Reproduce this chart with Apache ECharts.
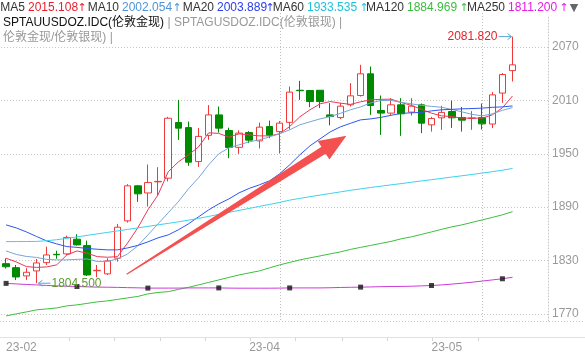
<!DOCTYPE html>
<html><head><meta charset="utf-8">
<script src="https://cdn.jsdelivr.net/npm/echarts@6/dist/echarts.min.js"></script>
<style>html,body{margin:0;padding:0;background:#fff}#c{width:585px;height:356px}</style>
</head><body><div id="c"></div>
<script>
// ---- data ----
const dates = ['2023-02-23','2023-02-24','2023-02-27','2023-02-28',
 '2023-03-01','2023-03-02','2023-03-03','2023-03-06','2023-03-07','2023-03-08','2023-03-09','2023-03-10',
 '2023-03-13','2023-03-14','2023-03-15','2023-03-16','2023-03-17','2023-03-20','2023-03-21','2023-03-22',
 '2023-03-23','2023-03-24','2023-03-27','2023-03-28','2023-03-29','2023-03-30','2023-03-31',
 '2023-04-03','2023-04-04','2023-04-05','2023-04-06','2023-04-07','2023-04-10','2023-04-11','2023-04-12',
 '2023-04-13','2023-04-14','2023-04-17','2023-04-18','2023-04-19','2023-04-20','2023-04-21','2023-04-24',
 '2023-04-25','2023-04-26','2023-04-27','2023-04-28',
 '2023-05-01','2023-05-02','2023-05-03','2023-05-04',
 '2023-05-05','2023-05-08','2023-05-09'];
const open  = [1826.5,1822,1812.7,1818.3,1827.6,1837,1837.5,1854,1846.8,1818.5,1815,1832.6,1874.6,1914,1906,1918.5,1922.6,1985.2,1979.5,1941.3,1970.8,1993.8,1976.2,1957.3,1973.9,1964.6,1980.7,1975,1985.4,2021.5,2021.2,2021.5,1993.8,1990.8,2005.1,2015.6,2040,1998.7,1995.8,2005.1,1996.9,2005.1,1982.6,1990.5,1997.6,1990.8,1989.9,1990.7,1983.5,2018.3,2043.6];
const close = [1823,1811.5,1816.8,1827.3,1836.3,1836.5,1856,1847.6,1813.8,1819,1829.6,1867.5,1914,1905,1917.7,1919,1990,1978.9,1940.6,1969.6,1993.8,1978.9,1957.1,1973.3,1965.4,1980,1971.1,1984.5,2019.4,2021,2008.8,2008.8,1991.9,2003.6,2015.2,2040,2004.3,1995.8,2005.1,1995,2003.6,1984.5,1989.7,1996.6,1990.5,1987.9,1990.3,1983.7,2016.3,2039.2,2050.1];
const low   = [1821,1808,1808.2,1804.5,1825,1832,1836,1846.8,1812.7,1811.3,1813.8,1828.8,1872.7,1896,1890.7,1903,1919,1965.7,1936.5,1935.3,1965.7,1973.9,1945.1,1950,1962,1956,1967.6,1950.3,1977.4,2010.7,2002.5,2001.4,1982,1989,2003.2,2014.4,1993.8,1971.3,1993.8,1970.2,1993,1973.3,1975,1977,1979.2,1975,1977,1977.3,1978.9,2007.3,2031.3];
const high  = [1832.5,1825,1821.4,1831.8,1845.6,1841,1858,1859.6,1852.4,1825,1832.6,1871.2,1915.9,1915,1938,1935,1991.6,2010.7,1986.3,1979,2004.8,2003.2,1979.4,1976.4,1975.6,1985.2,1987.4,1986.9,2025.7,2032.1,2021.5,2021.7,2007,2007.3,2029.5,2050.1,2048.2,2015.6,2012.6,2012.6,2012.6,2006.6,1991.6,2004,2009.9,2002.6,1998,2006.6,2019.5,2040.8,2081.82];
const ma5   = [1832.6,1828.5,1823.2,1822.3,1822.8,1825.1,1836.3,1840.8,1838.2,1834.4,1833.7,1834.4,1849.8,1866.7,1887.0,1903.8,1929.7,1940.9,1948.8,1957.8,1973.6,1973.0,1968.7,1972.5,1971.3,1970.2,1970.2,1972.5,1980.7,1991.6,1999.5,2006.2,2008.8,2007.0,2005.6,2008.5,2010.7,2011.3,2011.5,2007.7,2004.5,2000.2,1995.7,1992.7,1991.9,1990.1,1990.1,1990.1,1993.8,2001.7,2015.108];
const ma10  = [1840.8,1836.9,1834.6,1833.5,1831.3,1830.7,1830.7,1831.3,1831.8,1829.0,1829.0,1831.8,1837.5,1846.5,1858.8,1871.2,1883.6,1896.0,1910.6,1923.0,1937.6,1950.0,1956.7,1960.1,1963.5,1965.7,1969.1,1972.5,1977.0,1982.6,1986.0,1989.3,1991.9,1995.5,1999.5,2002.8,2007.3,2009.9,2010.1,2007.9,2006.2,2004.5,2003.4,2002.3,2000.0,1997.2,1994.4,1992.7,1995.0,1998.9,2002.054];
const ma20  = [1870.1,1866.7,1862.2,1857.1,1852.1,1848.7,1845.7,1844.8,1843.6,1842.7,1842.0,1842.0,1844.2,1847.0,1851.0,1855.5,1858.8,1864.5,1871.2,1879.1,1887.0,1893.7,1899.3,1906.1,1911.1,1915.1,1919.6,1927.5,1937.6,1948.8,1959.0,1966.8,1974.7,1980.3,1984.3,1988.2,1989.3,1991.0,1993.3,1995.5,1996.1,1996.6,1998.3,1999.5,2000.0,2000.6,2000.9,2001.4,2002.3,2002.8,2003.889];
const ma60  = [1851.3,1851.3,1851.4,1851.5,1852.3,1853.4,1854.9,1856.6,1858.3,1860.0,1861.6,1863.3,1865.0,1866.7,1868.4,1870.1,1871.8,1873.5,1875.4,1877.4,1879.6,1881.9,1884.1,1886.4,1888.6,1890.9,1893.1,1895.4,1897.9,1899.9,1901.8,1903.6,1905.4,1907.2,1909.0,1910.6,1912.2,1913.6,1915.1,1916.5,1918.0,1919.5,1920.9,1922.4,1923.9,1925.3,1926.8,1928.4,1929.9,1931.6,1933.535];
const ma120 = [1767.7,1770.0,1772.2,1774.5,1775.6,1776.7,1779.0,1780.1,1781.8,1783.5,1784.6,1786.3,1788.0,1789.6,1792.5,1794.1,1795.0,1797.5,1799.8,1802.6,1805.4,1808.2,1811.0,1813.8,1816.1,1818.3,1821.7,1825.1,1827.9,1830.7,1833.0,1835.2,1837.5,1839.7,1842.5,1844.8,1847.0,1849.3,1851.5,1854.4,1856.6,1859.4,1862.2,1865.1,1867.9,1870.1,1872.9,1875.7,1878.5,1881.4,1884.969];
const ma250 = [1804.3,1803.7,1803.1,1802.6,1802.0,1801.5,1801.1,1800.8,1800.4,1800.1,1800.0,1799.8,1799.5,1799.3,1799.0,1799.0,1799.0,1799.0,1799.2,1799.2,1799.2,1799.2,1799.0,1798.9,1798.9,1798.9,1798.9,1799.0,1799.2,1799.2,1799.2,1799.2,1799.4,1799.7,1799.9,1800.1,1800.3,1800.6,1800.8,1800.9,1801.1,1801.5,1801.9,1802.6,1803.5,1804.5,1805.6,1806.9,1808.2,1809.5,1811.200];
const yTicks = [1770,1830,1890,1950,2010,2070];
const xLabelIdx = [0,24,42];
const xLabelText = ['23-02','23-04','23-05'];
const monthLineIdx = [27,47];
const markerIdx = [0,7,14,21,28,35,42,49];
const yMin = 1762, yMax = 2105;
const arrowFrom = [11.9, 1814.5], arrowTo = [33.6, 1970.2];

// ---- chart ----
const FONT = '"Liberation Sans","Noto Sans CJK SC",sans-serif';
const C = {ma5:'#e8385a', ma10:'#78a4d6', ma20:'#2d55f0', ma60:'#3fd0ec', ma120:'#3cbf3c', ma250:'#cc3ad8'};
const LC = {ma5:'#e8202e', ma10:'#4d94d8', ma20:'#2a3cf0', ma60:'#1cc3dc', ma120:'#3cbc3c', ma250:'#e619e6'};
const chart = echarts.init(document.getElementById('c'), null, {renderer:'canvas'});
const kData = open.map((o,i)=>[o, close[i], low[i], high[i]]);
function maSeries(name, data, color){
  return {name, type:'line', data, showSymbol:false, symbol:'none', z:4, silent:true,
    lineStyle:{width:1, color}, itemStyle:{color}};
}
chart.setOption({
  animation:false,
  grid:{left:1, right:37, top:16, bottom:35},
  xAxis:{type:'category', data:dates, boundaryGap:true,
    axisLine:{show:false}, axisTick:{show:false}, splitLine:{show:false},
    axisLabel:{interval:(i)=>xLabelIdx.indexOf(i)>=0, formatter:(v,i)=>xLabelText[xLabelIdx.indexOf(i)]||'',
      align:'left', color:'#999', fontSize:12, fontFamily:FONT, margin:21}},
  yAxis:{type:'value', position:'right', min:yMin, max:yMax,
    axisLine:{show:true, lineStyle:{color:'#c8c8c8', type:[1,2]}},
    axisTick:{show:false, customValues:yTicks},
    axisLabel:{customValues:yTicks, formatter:(v)=>String(Math.round(v)), color:'#999', fontSize:12, fontFamily:FONT, margin:4},
    splitLine:{show:true, lineStyle:{color:'#c8c8c8', type:[1,2]}}},
  series:[
    {type:'candlestick', data:kData, barWidth:7, z:2,
      itemStyle:{color:'#ffffff', color0:'#008a00', borderColor:'#f03a3a', borderColor0:'#008a00', borderWidth:1}},
    maSeries('MA5', ma5, C.ma5),
    maSeries('MA10', ma10, C.ma10),
    maSeries('MA20', ma20, C.ma20),
    maSeries('MA60', ma60, C.ma60),
    maSeries('MA120', ma120, C.ma120),
    maSeries('MA250', ma250, C.ma250),
    {type:'scatter', symbol:'rect', symbolSize:5, z:5, silent:true,
      itemStyle:{color:'#111'}, data: markerIdx.map(i=>[i, ma250[i]])}
  ]
});

// ---- annotations ----
function px(i, v){
  const p0 = chart.convertToPixel({xAxisIndex:0,yAxisIndex:0},[0,v]);
  const p1 = chart.convertToPixel({xAxisIndex:0,yAxisIndex:0},[1,v]);
  return [p0[0] + (p1[0]-p0[0])*i, p0[1]];
}
const g = [];
function txt(text, x, y, fill, align){
  g.push({type:'text', z:20, silent:true,
    style:{text, x, y, fill, font:'12px '+FONT, align:align||'left', verticalAlign:'middle'}});
}
// month boundary lines
monthLineIdx.forEach(i=>{
  const xt = Math.round(px(i, yMax)[0]) + 0.5;
  const yt = px(i, yMax)[1], yb = px(i, yMin)[1];
  g.push({type:'line', z:0, silent:true, shape:{x1:xt,y1:yt-3,x2:xt,y2:yb}, style:{stroke:'#bdbdbd', lineWidth:1, lineDash:[1,2]}});
});
// legend row 1: [label, value array, value x, arrow x, key]
const last = a=>a[a.length-1].toFixed(3);
const row1 = [
  ['MA5', ma5,28,82,'ma5'], ['MA10', ma10,122,177,'ma10'], ['MA20', ma20,217,270,'ma20'],
  ['MA60', ma60,307,364,'ma60'], ['MA120', ma120,407,464,'ma120'], ['MA250', ma250,508,564,'ma250']];
row1.forEach(r=>{
  txt(r[0], r[2]-3, 8, '#333', 'right');
  txt(last(r[1]), r[2], 8, LC[r[4]]);
  g.push({type:'text', z:20, silent:true, style:{text:'↑', x:r[3], y:8, fill:LC[r[4]], font:'11px "DejaVu Sans"', align:'center', verticalAlign:'middle'}});
});
g.push({type:'text', z:20, silent:true, style:{text:'▼', x:574, y:8, fill:'#666', font:'11px "DejaVu Sans"', align:'center', verticalAlign:'middle'}});
// rows 2,3 (rich text flow)
g.push({type:'text', z:20, silent:true, style:{
  text:'{a|SPTAUUSDOZ.IDC(伦敦金现)}{b| | SPTAGUSDOZ.IDC(伦敦银现) |}',
  x:3, y:23, verticalAlign:'middle', font:'12px '+FONT,
  rich:{a:{fill:'#111', font:'12px '+FONT}, b:{fill:'#999', font:'12px '+FONT}}}});
g.push({type:'text', z:20, silent:true, style:{
  text:'伦敦金现/伦敦银现) |', x:3, y:38, verticalAlign:'middle', fill:'#999', font:'12px '+FONT}});

// x band lines
g.push({type:'line', z:1, silent:true, shape:{x1:0,y1:321.5,x2:585,y2:321.5}, style:{stroke:'#c8c8c8', lineWidth:1, lineDash:[1,2]}});
g.push({type:'line', z:1, silent:true, shape:{x1:0,y1:337.5,x2:585,y2:337.5}, style:{stroke:'#e2e2e2', lineWidth:1}});
[69,114,160,205,250,295,342,387,432,478].forEach(x=>{
  g.push({type:'line', z:1, silent:true, shape:{x1:x+0.5,y1:338,x2:x+0.5,y2:341}, style:{stroke:'#d4d4d4', lineWidth:1}});
});

// min / max labels
const hiIdx = high.indexOf(Math.max(...high));
const loIdx = low.indexOf(Math.min(...low));
const ph = px(hiIdx, high[hiIdx]);
const pl = px(loIdx, low[loIdx]);
const AC = '#5aa6cf';
g.push({type:'polyline', z:20, silent:true, shape:{points:[[ph[0]-14,ph[1]],[ph[0]-1,ph[1]]]}, style:{stroke:AC, lineWidth:1}});
g.push({type:'polyline', z:20, silent:true, shape:{points:[[ph[0]-5,ph[1]-3],[ph[0]-1,ph[1]],[ph[0]-5,ph[1]+3]]}, style:{stroke:AC, lineWidth:1, fill:null}});
txt(high[hiIdx].toFixed(3), ph[0]-15, ph[1], '#e8202a', 'right');
g.push({type:'polyline', z:20, silent:true, shape:{points:[[pl[0]+2,pl[1]],[pl[0]+14,pl[1]]]}, style:{stroke:AC, lineWidth:1}});
g.push({type:'polyline', z:20, silent:true, shape:{points:[[pl[0]+6,pl[1]-3],[pl[0]+2,pl[1]],[pl[0]+6,pl[1]+3]]}, style:{stroke:AC, lineWidth:1, fill:null}});
txt(low[loIdx].toFixed(3), pl[0]+15, pl[1], '#5e9a35');

// big red arrow
const A = px(arrowFrom[0], arrowFrom[1]);
const T = px(arrowTo[0], arrowTo[1]);
const dx = T[0]-A[0], dy = T[1]-A[1], L = Math.hypot(dx,dy);
const ux = dx/L, uy = dy/L, nx = -uy, ny = ux;
const headLen = 27, headHalf = 11, shaftHalf = 4;
const B = [T[0]-ux*headLen, T[1]-uy*headLen];
g.push({type:'polygon', z:15, silent:true, shape:{points:[
  [A[0]+nx*0.6, A[1]+ny*0.6],
  [B[0]+nx*shaftHalf, B[1]+ny*shaftHalf],
  [B[0]+nx*headHalf, B[1]+ny*headHalf],
  T,
  [B[0]-nx*headHalf, B[1]-ny*headHalf],
  [B[0]-nx*shaftHalf, B[1]-ny*shaftHalf],
  [A[0]-nx*0.6, A[1]-ny*0.6]]}, style:{fill:'#f45050'}});

chart.setOption({graphic:g});
</script></body></html>
